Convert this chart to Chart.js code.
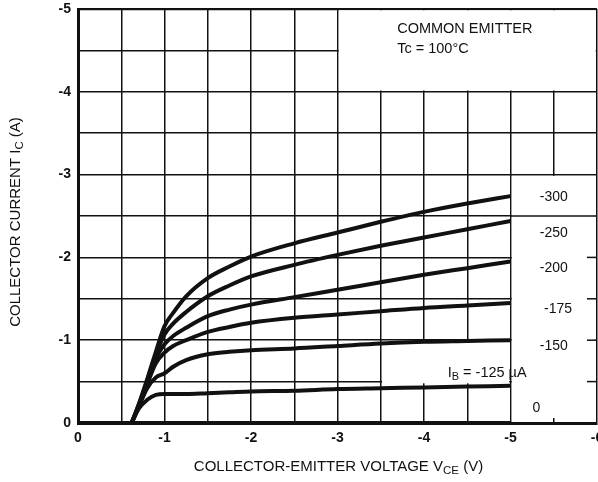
<!DOCTYPE html>
<html><head><meta charset="utf-8">
<script src="https://cdn.jsdelivr.net/npm/chart.js@4.4.1/dist/chart.umd.min.js"></script>
<style>html,body{margin:0;padding:0;background:#fff;}canvas{display:block;}</style>
</head><body>
<canvas id="c" width="598" height="482"></canvas>
<script>
// ---- data ----
const vce   = [-0.62, -0.7, -0.8, -0.9, -1.0, -1.1, -1.25, -1.5, -1.75, -2, -2.5, -3, -3.5, -4, -4.5, -5];
const ib300 = [0, -0.22, -0.53, -0.86, -1.17, -1.33, -1.53, -1.75, -1.89, -2.01, -2.17, -2.30, -2.43, -2.55, -2.65, -2.74];
const ib250 = [0, -0.21, -0.51, -0.83, -1.07, -1.20, -1.34, -1.53, -1.66, -1.77, -1.91, -2.03, -2.14, -2.24, -2.34, -2.44];
const ib200 = [0, -0.20, -0.49, -0.78, -0.95, -1.05, -1.15, -1.29, -1.37, -1.43, -1.52, -1.61, -1.70, -1.79, -1.87, -1.95];
const ib175 = [0, -0.20, -0.47, -0.72, -0.85, -0.93, -1.00, -1.10, -1.16, -1.21, -1.27, -1.31, -1.35, -1.39, -1.42, -1.45];
const ib150 = [0, -0.19, -0.42, -0.55, -0.60, -0.68, -0.76, -0.83, -0.86, -0.88, -0.90, -0.93, -0.96, -0.98, -0.99, -1.00];
const ib125 = [0, -0.17, -0.28, -0.34, -0.35, -0.35, -0.35, -0.36, -0.37, -0.38, -0.39, -0.41, -0.42, -0.43, -0.44, -0.45];
const ib0X  = [0, -5];
const ib0   = [0, 0];
const seriesNames = ['-300', '-250', '-200', '-175', '-150', 'I_B = -125 \u00b5A', '0'];
const xTickLabels = ['0', '-1', '-2', '-3', '-4', '-5', '-6'];
const yTickLabels = ['0', '-1', '-2', '-3', '-4', '-5'];

const FONT = "'Liberation Sans', Arial, Helvetica, sans-serif";
const INK = '#111';

function pts(xs, ys) { return xs.map((x, i) => ({x, y: ys[i]})); }
function ds(xs, ys) {
  return {data: pts(xs, ys), borderColor: INK, borderWidth: 4, pointRadius: 0,
          cubicInterpolationMode: 'monotone', fill: false, clip: false};
}

const gridMask = {
  id: 'gridMask',
  beforeDatasetsDraw(chart) {
    const {ctx, scales: {x, y}} = chart;
    const px = v => x.getPixelForValue(v), py = v => y.getPixelForValue(v);
    const ins = 1.3;
    ctx.save();
    ctx.fillStyle = '#fff';
    const rect = (x0, y0, x1, y1, extraB = 0) => {
      const l = Math.min(px(x0), px(x1)), r = Math.max(px(x0), px(x1));
      const t = Math.min(py(y0), py(y1)), b = Math.max(py(y0), py(y1));
      ctx.fillRect(l + ins, t + ins, r - l - 2 * ins, b - t - 2 * ins + extraB);
    };
    rect(-3, -4, -6, -5);          // annotation box
    rect(-5, 0, -6, -3);           // right column for labels
    rect(-3.5, -0.5, -5, -1, 3);   // room for the I_B label
    ctx.strokeStyle = INK; ctx.lineWidth = 1.5;
    const line = (a, b, c, d) => { ctx.beginPath(); ctx.moveTo(a, b); ctx.lineTo(c, d); ctx.stroke(); };
    line(px(-5), py(-2.5), px(-6), py(-2.5));
    for (const v of [-0.5, -1, -1.5, -2]) line(px(-6) - 10, py(v), px(-6), py(v));
    line(px(-5.5), py(0), px(-5.5), py(0) - 5);
    ctx.restore();
  }
};

function drawRich(ctx, parts, cx, cy) {
  let total = 0;
  for (const p of parts) { ctx.font = p.font; p.w = ctx.measureText(p.t).width; total += p.w; }
  let xx = cx - total / 2;
  for (const p of parts) { ctx.font = p.font; ctx.fillText(p.t, xx, cy + (p.dy || 0)); xx += p.w; }
}

const texts = {
  id: 'texts',
  afterDraw(chart) {
    const {ctx, chartArea: a, scales: {x, y}} = chart;
    const px = v => x.getPixelForValue(v), py = v => y.getPixelForValue(v);
    ctx.save();
    ctx.fillStyle = INK;
    ctx.textBaseline = 'middle';
    // annotation
    ctx.textAlign = 'left';
    ctx.font = `14.5px ${FONT}`;
    ctx.fillText('COMMON EMITTER', px(-3.69), py(-4.76));
    ctx.fillText('Tc = 100\u00b0C', px(-3.69), py(-4.52));
    // series labels
    ctx.font = `14px ${FONT}`;
    ctx.textAlign = 'center';
    const anchors = [[-5.5, -2.73], [-5.5, -2.29], [-5.5, -1.87], [-5.55, -1.37], [-5.5, -0.93]];
    anchors.forEach((p, i) => ctx.fillText(seriesNames[i], px(p[0]), py(p[1])));
    ctx.fillText(seriesNames[6], px(-5.3), py(-0.18));
    ctx.textAlign = 'left';
    const main = `14.5px ${FONT}`, sub = `11px ${FONT}`;
    drawRich(ctx, [{t: 'I', font: main}, {t: 'B', font: sub, dy: 4}, {t: ' = -125 \u00b5A', font: main}], px(-4.73), py(-0.6));
    // axis titles
    const mainT = `15px ${FONT}`, subT = `11.5px ${FONT}`;
    drawRich(ctx, [{t: 'COLLECTOR-EMITTER VOLTAGE V', font: mainT}, {t: 'CE', font: subT, dy: 4}, {t: ' (V)', font: mainT}],
             (a.left + a.right) / 2 + 1, 467);
    ctx.save();
    ctx.translate(16, (a.top + a.bottom) / 2 + 6);
    ctx.rotate(-Math.PI / 2);
    drawRich(ctx, [{t: 'COLLECTOR CURRENT I', font: mainT}, {t: 'C', font: subT, dy: 4}, {t: ' (A)', font: mainT}], 0, 0);
    ctx.restore();
    ctx.restore();
  }
};

const labelFor = (list) => (v) => {
  if (Math.abs(v - Math.round(v)) > 1e-9) return '';
  const s = list.find(t => Number(t) === Math.round(v));
  return s === undefined ? '' : s;
};

new Chart(document.getElementById('c'), {
  type: 'line',
  data: {
    datasets: [
      ds(vce, ib300), ds(vce, ib250), ds(vce, ib200), ds(vce, ib175),
      ds(vce, ib150), ds(vce, ib125), ds(ib0X, ib0)
    ]
  },
  options: {
    responsive: false,
    animation: false,
    devicePixelRatio: 1,
    layout: {padding: {top: 9, right: 1, left: 0, bottom: 0}},
    plugins: {legend: {display: false}, tooltip: {enabled: false}, title: {display: false}},
    scales: {
      x: {
        type: 'linear', min: -6, max: 0, reverse: true,
        ticks: {stepSize: 0.5, autoSkip: false, maxRotation: 0, padding: 7, color: INK,
                font: {family: FONT, size: 14, weight: 'bold'}, callback: labelFor(xTickLabels)},
        grid: {color: INK, lineWidth: 1.5, drawTicks: false},
        border: {display: true, color: INK, width: 3},
        afterFit(s) { s.height = 59; s.paddingLeft = 0; s.paddingRight = 0; }
      },
      y: {
        type: 'linear', min: -5, max: 0, reverse: true,
        ticks: {stepSize: 0.5, autoSkip: false, padding: 7, color: INK,
                font: {family: FONT, size: 14, weight: 'bold'}, callback: labelFor(yTickLabels)},
        grid: {color: INK, lineWidth: (c) => (c.tick && c.tick.value === -5 ? 2.2 : 1.5), drawTicks: false},
        border: {display: true, color: INK, width: 3},
        afterFit(s) { s.width = 78; s.paddingTop = 0; s.paddingBottom = 0; }
      }
    }
  },
  plugins: [gridMask, texts]
});
</script>
</body></html>
